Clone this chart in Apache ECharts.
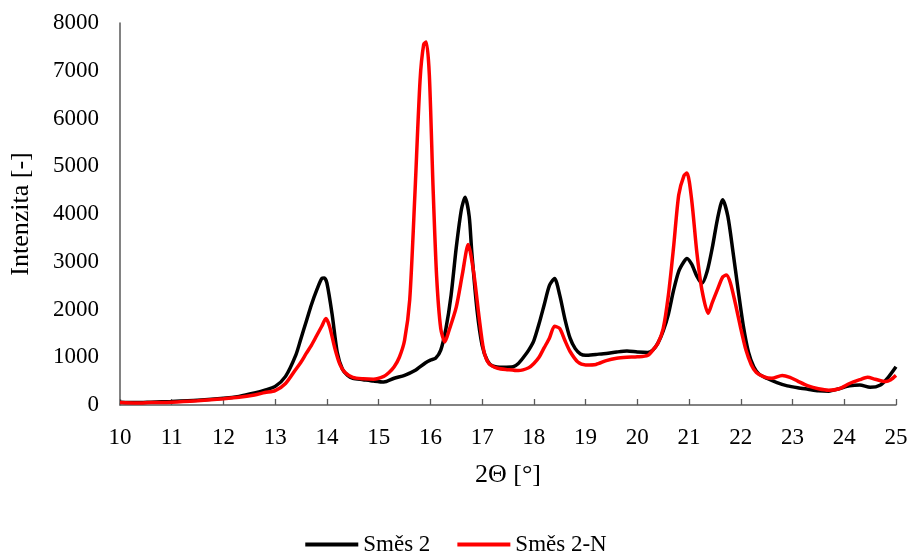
<!DOCTYPE html>
<html>
<head>
<meta charset="utf-8">
<script src="https://cdn.jsdelivr.net/npm/echarts@6/dist/echarts.min.js"></script>
<style>html,body{margin:0;padding:0;background:#fff}#c{width:912px;height:554px}</style>
</head>
<body>
<div id="c"></div>
<script>
const seriesNames = ['Směs 2', 'Směs 2-N'];
const xTicks = [10,11,12,13,14,15,16,17,18,19,20,21,22,23,24,25];
const yTicks = [0,1000,2000,3000,4000,5000,6000,7000,8000];

const smes2X = [10.0,10.3,10.6,11.0,11.5,12.0,12.3,12.6,12.8,13.0,13.2,13.4,13.5,13.6,13.7,13.8,13.9,13.95,14.0,14.1,14.2,14.3,14.4,14.5,14.7,14.9,15.1,15.3,15.5,15.7,15.9,16.0,16.1,16.2,16.3,16.4,16.5,16.6,16.67,16.75,16.8,16.9,17.0,17.1,17.2,17.4,17.6,17.7,17.8,17.9,18.0,18.1,18.2,18.3,18.4,18.5,18.6,18.7,18.8,18.9,19.0,19.2,19.4,19.6,19.8,20.0,20.2,20.3,20.4,20.5,20.6,20.7,20.8,20.9,20.96,21.05,21.15,21.25,21.35,21.45,21.55,21.65,21.75,21.85,21.95,22.05,22.15,22.25,22.35,22.5,22.7,22.9,23.1,23.3,23.5,23.7,23.9,24.1,24.3,24.5,24.7,24.85,25.0];
const smes2Y = [60,50,60,75,100,140,180,250,310,390,600,1050,1400,1750,2100,2400,2650,2660,2550,1900,1100,750,620,560,530,500,480,560,620,720,880,940,980,1150,1600,2300,3300,4100,4350,3950,3200,2000,1250,930,820,790,800,870,1000,1150,1350,1700,2100,2500,2650,2300,1800,1400,1180,1070,1040,1060,1080,1110,1130,1110,1100,1150,1300,1550,1900,2400,2800,3000,3070,2950,2700,2550,2800,3300,3900,4300,3950,3200,2400,1650,1100,800,650,560,470,400,360,330,300,290,340,400,420,370,420,580,800];

const smes2NX = [10.0,10.3,10.6,11.0,11.5,12.0,12.3,12.6,12.8,13.0,13.2,13.4,13.5,13.6,13.7,13.8,13.9,13.98,14.05,14.15,14.25,14.35,14.5,14.7,14.9,15.1,15.2,15.3,15.4,15.5,15.6,15.7,15.8,15.87,15.92,15.98,16.05,16.12,16.2,16.28,16.36,16.5,16.62,16.73,16.84,16.94,17.03,17.13,17.3,17.5,17.7,17.9,18.0,18.1,18.2,18.3,18.4,18.5,18.6,18.7,18.85,19.0,19.2,19.4,19.6,19.8,20.0,20.2,20.3,20.4,20.5,20.6,20.7,20.8,20.9,20.96,21.05,21.15,21.25,21.37,21.45,21.55,21.65,21.72,21.8,21.9,22.0,22.1,22.2,22.3,22.45,22.6,22.8,22.95,23.1,23.3,23.5,23.7,23.9,24.1,24.3,24.45,24.6,24.8,24.9,25.0];
const smes2NY = [50,40,50,60,90,130,160,210,260,300,450,750,900,1080,1250,1450,1650,1810,1650,1200,850,680,580,550,540,600,680,800,1000,1350,2200,4400,6800,7550,7600,6900,4600,2700,1600,1320,1560,2050,2750,3360,2750,1850,1150,870,770,740,720,780,870,1000,1200,1400,1650,1600,1350,1120,900,840,850,930,980,1000,1010,1040,1150,1300,1600,2300,3300,4400,4800,4860,4300,3200,2400,1920,2150,2420,2680,2720,2550,2100,1600,1150,850,680,590,560,620,580,500,400,340,310,340,450,530,580,540,490,530,620];

const pairs = (xs, ys) => xs.map((x, i) => [x, ys[i]]);
const font = 'Liberation Serif';
const chart = echarts.init(document.getElementById('c'), null, {renderer: 'canvas'});
chart.setOption({
  animation: false,
  backgroundColor: '#ffffff',
  grid: {left: 113, right: 16, top: 23, bottom: 149, containLabel: false},
  xAxis: {
    type: 'value', min: xTicks[0], max: xTicks[xTicks.length - 1], interval: 1,
    name: '2Θ [°]', nameLocation: 'middle', nameGap: 57,
    nameTextStyle: {fontFamily: font, fontSize: 26, color: '#000'},
    axisLine: {show: true, lineStyle: {color: '#595959', width: 1.5}},
    axisTick: {show: true, inside: true, length: 6, lineStyle: {color: '#595959', width: 1.3}},
    axisLabel: {fontFamily: font, fontSize: 23, color: '#000', margin: 21, formatter: v => String(v)},
    splitLine: {show: false}
  },
  yAxis: {
    type: 'value', min: yTicks[0], max: yTicks[yTicks.length - 1], interval: 1000,
    name: 'Intenzita [-]', nameLocation: 'middle', nameGap: 86, nameRotate: 90,
    nameTextStyle: {fontFamily: font, fontSize: 26, color: '#000'},
    axisLine: {show: true, lineStyle: {color: '#595959', width: 1.5}},
    axisTick: {show: false},
    axisLabel: {fontFamily: font, fontSize: 23, color: '#000', margin: 21, formatter: v => String(v)},
    splitLine: {show: false}
  },
  legend: {
    top: 528, left: 'center', itemWidth: 53, itemHeight: 4, itemGap: 27,
    icon: 'rect',
    textStyle: {fontFamily: font, fontSize: 23, color: '#000'},
    data: seriesNames
  },
  series: [
    {name: seriesNames[0], type: 'line', data: pairs(smes2X, smes2Y), showSymbol: false, smooth: 0.25,
     lineStyle: {color: '#000000', width: 3.5}, itemStyle: {color: '#000000'}},
    {name: seriesNames[1], type: 'line', data: pairs(smes2NX, smes2NY), showSymbol: false, smooth: 0.25,
     lineStyle: {color: '#ff0000', width: 3.5}, itemStyle: {color: '#ff0000'}}
  ]
});
</script>
</body>
</html>
